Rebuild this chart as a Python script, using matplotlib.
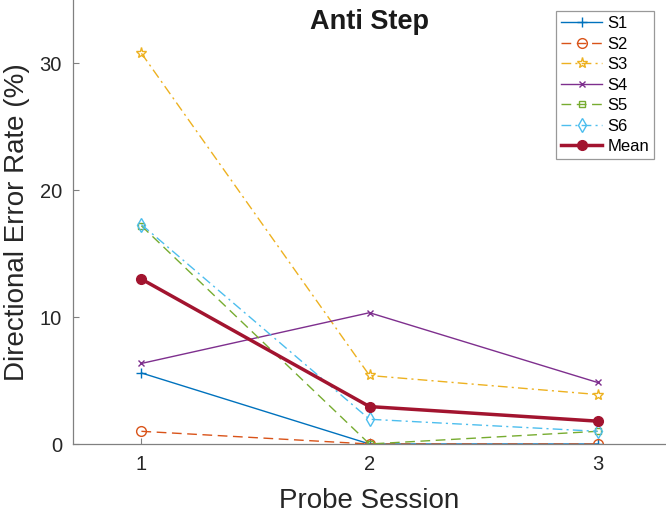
import matplotlib
matplotlib.use("Agg")
import matplotlib.pyplot as plt
import numpy as np

plt.rcParams['font.family'] = ['Liberation Sans', 'DejaVu Sans']

sessions = [1, 2, 3]
labels = ["S1", "S2", "S3", "S4", "S5", "S6", "Mean"]
s1 = [5.6, 0.0, 0.0]
s2 = [1.0, 0.0, 0.0]
s3 = [30.8, 5.4, 3.9]
s4 = [6.35, 10.35, 4.85]
s5 = [17.2, 0.0, 1.0]
s6 = [17.3, 1.95, 1.0]
mean = [13.0, 2.95, 1.8]

series = [s1, s2, s3, s4, s5, s6, mean]
colors = ['#0072BD', '#D95319', '#EDB120', '#7E2F8E', '#77AC30', '#4DBEEE', '#A2142F']
styles = ['-', (0, (7, 4)), (0, (7, 3, 1.5, 3)), '-', (0, (7, 4)), (0, (7, 3, 1.5, 3)), '-']
markers = ['+', 'o', '*', 'x', 's', 'd', 'o']
msizes = [7, 7, 8, 5, 4, 7, 7]

fig = plt.figure(figsize=(6.66, 5.27), dpi=100)
ax = fig.add_axes([73 / 666, 83 / 527, 593 / 666, 444 / 527])

for i, (vals, lab) in enumerate(zip(series, labels)):
    is_mean = lab == "Mean"
    ax.plot(sessions, vals, color=colors[i], linestyle=styles[i],
            marker=markers[i], markersize=msizes[i],
            markerfacecolor=colors[i] if is_mean else 'none',
            markeredgecolor=colors[i], markeredgewidth=1.0,
            linewidth=2.5 if is_mean else 1.0, label=lab)

ax.set_xlim(0.7, 3.3)
ax.set_ylim(0, 35)
ax.set_xticks(sessions)
ax.set_yticks([0, 10, 20, 30])
for side in ['top', 'right']:
    ax.spines[side].set_visible(False)
for side in ['left', 'bottom']:
    ax.spines[side].set_color('#808080')
    ax.spines[side].set_linewidth(0.9)
ax.tick_params(direction='in', length=4, color='#808080', labelsize=14.5,
               labelcolor='#262626', pad=8)

ax.set_xlabel("Probe Session", fontsize=20, color='#262626', labelpad=10)
ax.set_ylabel("Directional Error Rate (%)", fontsize=20, color='#262626', labelpad=7)
ax.text(0.5, 0.935, "Anti Step", transform=ax.transAxes, ha='center', va='baseline',
        fontsize=19.5, fontweight='bold', color='#1a1a1a')

leg = ax.legend(loc='upper right', bbox_to_anchor=(0.98, 0.975), fontsize=12,
                frameon=True, fancybox=False, handlelength=2.5, handletextpad=0.3,
                labelspacing=0.33, borderpad=0.3, borderaxespad=0)
leg.get_frame().set_edgecolor('#808080')
leg.get_frame().set_linewidth(0.9)

fig.savefig("out.png", dpi=100)
